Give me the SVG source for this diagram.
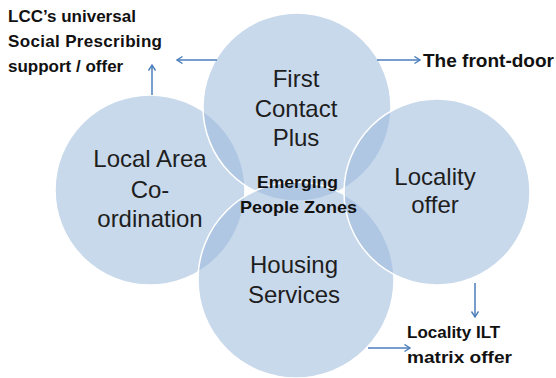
<svg xmlns="http://www.w3.org/2000/svg" width="556" height="378" viewBox="0 0 556 378">
<style>
.circ{fill:rgb(151,182,218);fill-opacity:0.52;stroke:#ffffff;stroke-width:1.5}
.lbl{font-family:"Liberation Sans",Arial,sans-serif;font-size:24px;fill:#1e1e1e;text-anchor:middle}
.bl{font-family:"Liberation Sans",Arial,sans-serif;font-size:17px;font-weight:bold;fill:#111}
.conn{stroke:#4a7ebb;stroke-width:1.5;fill:none}
</style>
<defs>
<marker id="arr" markerUnits="userSpaceOnUse" markerWidth="10" markerHeight="10" refX="6" refY="4" orient="auto">
<path d="M0.5,0.5 L6,4 L0.5,7.5" fill="none" stroke="#4a7ebb" stroke-width="1.4"/>
</marker>
</defs>
<rect width="556" height="378" fill="#ffffff"/>
<g id="local-area">
<circle class="circ" cx="150" cy="190" r="95"/>
</g>
<g id="first-contact">
<circle class="circ" cx="297" cy="107" r="94"/>
</g>
<g id="housing">
<circle class="circ" cx="296" cy="280" r="98"/>
</g>
<g id="locality">
<circle class="circ" cx="437" cy="192" r="93"/>
</g>
<g id="labels-local-area">
<text class="lbl" x="150" y="167">Local Area</text>
<text class="lbl" x="150" y="198">Co-</text>
<text class="lbl" x="150" y="227">ordination</text>
</g>
<g id="labels-first-contact">
<text class="lbl" x="296" y="87">First</text>
<text class="lbl" x="296" y="117">Contact</text>
<text class="lbl" x="296" y="146">Plus</text>
</g>
<g id="labels-housing">
<text class="lbl" x="294" y="273">Housing</text>
<text class="lbl" x="294" y="303">Services</text>
</g>
<g id="labels-locality">
<text class="lbl" x="435" y="185">Locality</text>
<text class="lbl" x="435" y="213">offer</text>
</g>
<g id="emerging">
<text class="bl" x="257" y="188" textLength="81" lengthAdjust="spacingAndGlyphs">Emerging</text>
<text class="bl" x="240" y="213" textLength="117" lengthAdjust="spacingAndGlyphs">People Zones</text>
</g>
<g id="lcc-offer">
<text class="bl" x="8" y="22">LCC’s universal</text>
<text class="bl" x="8" y="47" textLength="154" lengthAdjust="spacing">Social Prescribing</text>
<text class="bl" x="8" y="72">support / offer</text>
</g>
<g id="front-door">
<text class="bl" x="423" y="67" style="font-size:18px" textLength="131" lengthAdjust="spacingAndGlyphs">The front-door</text>
</g>
<g id="locality-ilt">
<text class="bl" x="407" y="338">Locality ILT</text>
<text class="bl" x="407" y="363" textLength="105" lengthAdjust="spacingAndGlyphs">matrix offer</text>
</g>
<g id="connectors">
<line class="conn" x1="217" y1="60" x2="177" y2="60" marker-end="url(#arr)"/>
<line class="conn" x1="152" y1="95" x2="152" y2="65" marker-end="url(#arr)"/>
<line class="conn" x1="377" y1="60" x2="420" y2="60" marker-end="url(#arr)"/>
<line class="conn" x1="475" y1="283" x2="475" y2="317" marker-end="url(#arr)"/>
<line class="conn" x1="368" y1="348" x2="410" y2="348" marker-end="url(#arr)"/>
</g>
</svg>
